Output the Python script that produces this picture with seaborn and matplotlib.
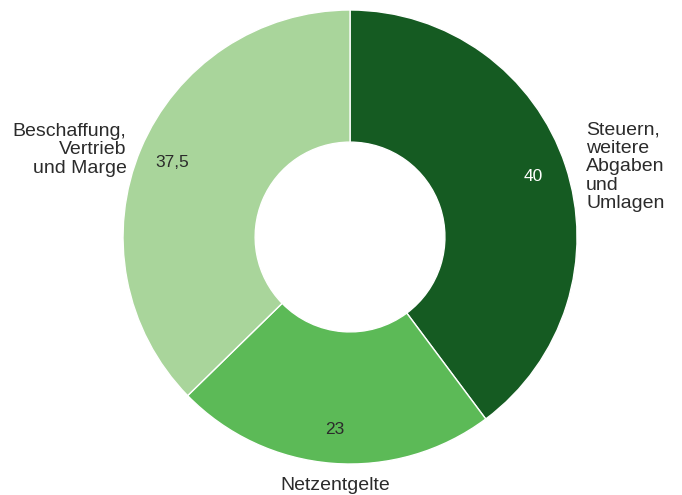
import matplotlib.pyplot as plt
import seaborn as sns

sns.set_theme(style="white")
plt.rcParams['font.family'] = ['Liberation Sans', 'DejaVu Sans']

labels = ["Steuern,\nweitere\nAbgaben\nund\nUmlagen", "Netzentgelte", "Beschaffung,\nVertrieb\nund Marge"]
values = [40, 23, 37.5]
value_text = ["40", "23", "37,5"]
colors = ["#155b22", "#5cba57", "#a9d59b"]
value_colors = ["white", "#2b2b2b", "#2b2b2b"]

fig = plt.figure(figsize=(6.82, 4.95), dpi=100)
ax = fig.add_axes([0.1804, 0.0626, 0.6657, 0.9172])

wedges, texts, autotexts = ax.pie(
    values, labels=labels, colors=colors, startangle=90, counterclock=False,
    radius=1, labeldistance=1.1, pctdistance=0.85,
    autopct=lambda p: "",
    wedgeprops=dict(width=0.582, edgecolor="white", linewidth=1),
    textprops=dict(fontsize=14, color="#2b2b2b", linespacing=1.12),
)

for t, s, c in zip(autotexts, value_text, value_colors):
    t.set_text(s)
    t.set_color(c)
    t.set_fontsize(12.5)

# fine-tune outer label placement
texts[0].set_position((1.04, 0.31))
texts[0].set_ha("left")
texts[1].set_position((-0.066, -1.093))
texts[1].set_ha("center")
texts[1].set_va("center")
texts[2].set_position((-0.985, 0.385))
texts[2].set_ha("right")

ax.set_xlim(-1, 1)
ax.set_ylim(-1, 1)
ax.set_aspect("equal")
ax.axis("off")

fig.savefig("out.png", dpi=100)
